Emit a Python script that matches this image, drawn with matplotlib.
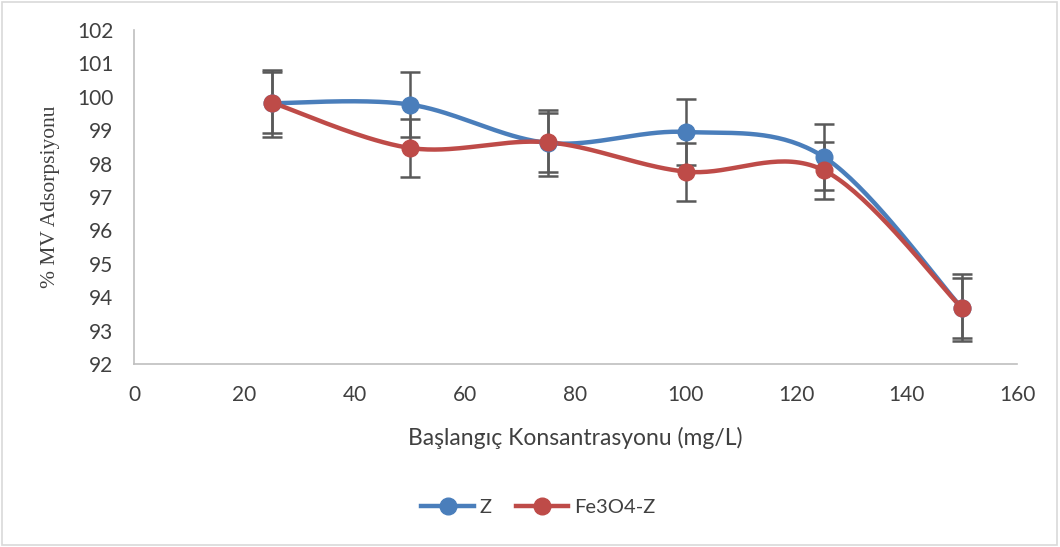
import numpy as np
import matplotlib
matplotlib.use("Agg")
import matplotlib.pyplot as plt
from matplotlib.patches import Rectangle

conc = [25, 50, 75, 100, 125, 150]
z_vals = [99.81, 99.77, 98.62, 98.95, 98.20, 93.68]
z_err = [1.0, 0.98, 0.98, 1.0, 1.0, 1.0]
fe_vals = [99.83, 98.47, 98.64, 97.76, 97.80, 93.68]
fe_err = [0.9, 0.87, 0.88, 0.87, 0.85, 0.9]
series_names = ["Z", "Fe3O4-Z"]
colors = ["#4A7EBB", "#BE4B48"]
xticks = list(range(0, 161, 20))
yticks = list(range(92, 103, 1))


def smooth(x, y, n=40, tension=0.5):
    x = np.asarray(x, float)
    y = np.asarray(y, float)
    px = np.concatenate([[x[0]], x, [x[-1]]])
    py = np.concatenate([[y[0]], y, [y[-1]]])
    ox, oy = [], []
    for i in range(1, len(px) - 2):
        p0 = np.array([px[i - 1], py[i - 1]])
        p1 = np.array([px[i], py[i]])
        p2 = np.array([px[i + 1], py[i + 1]])
        p3 = np.array([px[i + 2], py[i + 2]])
        c1 = p1 + (p2 - p0) * tension / 3
        c2 = p2 - (p3 - p1) * tension / 3
        t = np.linspace(0, 1, n)[:, None]
        pts = ((1 - t) ** 3) * p1 + 3 * ((1 - t) ** 2) * t * c1 + 3 * (1 - t) * t ** 2 * c2 + t ** 3 * p2
        ox.extend(pts[:, 0]); oy.extend(pts[:, 1])
    return np.array(ox), np.array(oy)


fig = plt.figure(figsize=(10.6, 5.47), dpi=100)
fig.patches.append(Rectangle((0.002, 0.003), 0.995, 0.994, transform=fig.transFigure,
                             fill=False, edgecolor="#D9D9D9", lw=1.2))
ax = fig.add_axes([0.1264, 0.3346, 0.8330, 0.6104])

sans = "Lato"
for vals, errs, col, name in [(z_vals, z_err, colors[0], series_names[0]),
                              (fe_vals, fe_err, colors[1], series_names[1])]:
    sx, sy = smooth(conc, vals)
    ax.errorbar(conc, vals, yerr=errs, fmt="none", ecolor="#595959", elinewidth=1.8,
                capsize=7, capthick=1.8, zorder=2)
    ax.plot(sx, sy, color=col, lw=3.2, zorder=3, solid_capstyle="round")
    ax.plot(conc, vals, "o", color=col, ms=12, zorder=4)
    ax.plot([], [], "-o", color=col, lw=3.2, ms=12, label=name)

ax.set_xlim(0, 160)
ax.set_ylim(92, 102)
ax.set_xticks(xticks)
ax.set_yticks(yticks)
ax.tick_params(axis="y", length=0, labelsize=15, labelcolor="#404040", pad=15)
ax.tick_params(axis="x", length=0, labelsize=15, labelcolor="#404040", pad=15)
for lab in ax.get_xticklabels() + ax.get_yticklabels():
    lab.set_family(sans)
for s in ["top", "right"]:
    ax.spines[s].set_visible(False)
for s in ["left", "bottom"]:
    ax.spines[s].set_color("#BFBFBF")
    ax.spines[s].set_linewidth(1.2)

ax.set_xlabel("Başlangıç Konsantrasyonu (mg/L)", fontsize=16.5, family=sans,
              color="#404040", labelpad=16)
ax.set_ylabel("% MV Adsorpsiyonu", fontsize=15.5, family="Liberation Serif",
              color="#404040", labelpad=12)

leg = fig.legend(loc="center", bbox_to_anchor=(0.508, 0.073), ncol=2, frameon=False,
                 prop={"family": sans, "size": 14.5}, handlelength=2.6,
                 columnspacing=1.2, handletextpad=0.3)
for t in leg.get_texts():
    t.set_color("#404040")

fig.savefig("out.png", dpi=100)
